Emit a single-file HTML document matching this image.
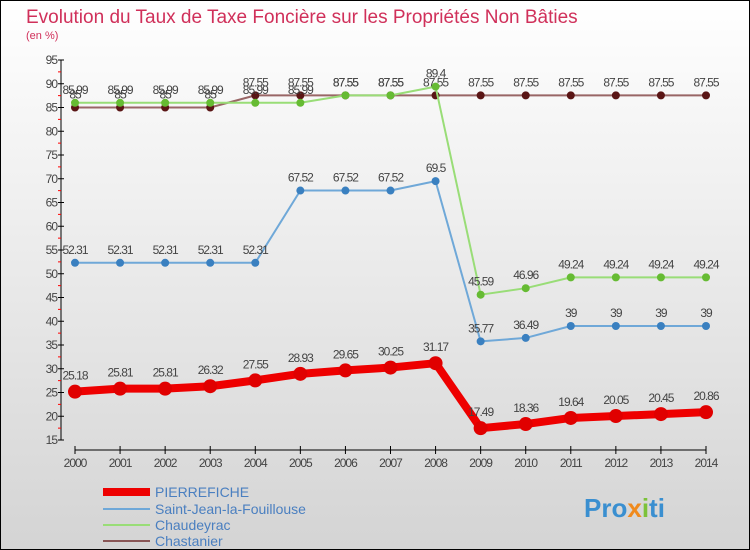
<!DOCTYPE html>
<html><head><meta charset="utf-8"><style>
body{margin:0;}
#c{width:750px;height:550px;position:relative;overflow:hidden;}
svg text{font-family:"Liberation Sans",sans-serif;}
</style></head><body>
<div id="c">
<svg id="s" width="750" height="550" xmlns="http://www.w3.org/2000/svg">
<defs><linearGradient id="bg" x1="0" y1="0" x2="0" y2="1"><stop offset="0" stop-color="#ffffff"/><stop offset="1" stop-color="#d4d4d4"/></linearGradient></defs>
<rect x="0.5" y="0.5" width="749" height="549" fill="url(#bg)" stroke="#000"/>
<text x="26" y="23" font-size="19" fill="#d0305a">Evolution du Taux de Taxe Foncière sur les Propriétés Non Bâties</text>
<text x="26" y="39" font-size="11" fill="#d0305a">(en %)</text>
<g id="axes"></g><g id="series"></g>
<g>
<line x1="103" y1="492" x2="150" y2="492" stroke="#ee0000" stroke-width="8"/>
<text x="155" y="497" font-size="14" fill="#4a7fc0">PIERREFICHE</text>
<line x1="103" y1="509" x2="150" y2="509" stroke="#6fa8d8" stroke-width="2"/>
<text x="155" y="514" font-size="14" fill="#4a7fc0">Saint-Jean-la-Fouillouse</text>
<line x1="103" y1="525" x2="150" y2="525" stroke="#99dd77" stroke-width="2"/>
<text x="155" y="530" font-size="14" fill="#4a7fc0">Chaudeyrac</text>
<line x1="103" y1="541" x2="150" y2="541" stroke="#885555" stroke-width="2"/>
<text x="155" y="546" font-size="14" fill="#4a7fc0">Chastanier</text>
</g>
<text x="584" y="517" font-size="26" font-weight="bold" fill="#3a8fd0">Pro<tspan fill="#f08a1c">x</tspan><tspan fill="#7cc23a">i</tspan>ti</text>
</svg></div>
<script>
const years=[2000,2001,2002,2003,2004,2005,2006,2007,2008,2009,2010,2011,2012,2013,2014];
const yTicks=[15,20,25,30,35,40,45,50,55,60,65,70,75,80,85,90,95];
const pierrefiche=[25.18,25.81,25.81,26.32,27.55,28.93,29.65,30.25,31.17,17.49,18.36,19.64,20.05,20.45,20.86];
const saintJean=[52.31,52.31,52.31,52.31,52.31,67.52,67.52,67.52,69.5,35.77,36.49,39,39,39,39];
const chaudeyrac=[85.99,85.99,85.99,85.99,85.99,85.99,87.55,87.55,89.4,45.59,46.96,49.24,49.24,49.24,49.24];
const chastanier=[85,85,85,85,87.55,87.55,87.55,87.55,87.55,87.55,87.55,87.55,87.55,87.55,87.55];
const NS="http://www.w3.org/2000/svg";
const X=i=>75+i*(706-75)/(years.length-1);
const Y=v=>60+(95-v)*4.75;
function mk(t,a,p){const e=document.createElementNS(NS,t);for(const k in a)e.setAttribute(k,a[k]);p.appendChild(e);return e;}
const ax=document.getElementById('axes');
let yl=mk('line',{x1:61,y1:60,x2:61,y2:440,stroke:'#000'},ax);


yTicks.forEach(v=>{
 const t=mk('line',{x1:58,y1:Y(v),x2:64,y2:Y(v),stroke:'#000'},ax);
 
 
 if(v<95){const m=mk('line',{x1:58,y1:Y(v+2.5),x2:61,y2:Y(v+2.5),stroke:'#f00'},ax);
 
 }
 const l=mk('text',{x:57,y:Y(v)+4,'font-size':12,fill:'#444','text-anchor':'end','letter-spacing':'-1'},ax);l.textContent=v;
 
 
});
let xl=mk('line',{x1:75,y1:450,x2:706,y2:450,stroke:'#000'},ax);


years.forEach((y,i)=>{
 const t=mk('line',{x1:X(i),y1:446,x2:X(i),y2:454,stroke:'#000'},ax);
 
 
 const l=mk('text',{x:X(i),y:467,'font-size':12,fill:'#444','text-anchor':'middle','letter-spacing':'-1'},ax);l.textContent=y;
 
 
});
const sg=document.getElementById('series');
function draw(data,name,line,dot,w,r){
 const g=mk('g',{},sg);
 
 
 const p=mk('polyline',{points:data.map((v,i)=>X(i)+','+Y(v)).join(' '),fill:'none',stroke:line,'stroke-width':w,'stroke-linejoin':'round'},g);
 
 
 data.forEach((v,i)=>{
  const c=mk('circle',{cx:X(i),cy:Y(v),r:r,fill:dot},g);
  
  
  const t=mk('text',{x:X(i),y:Y(v)-(r+5),'font-size':12,fill:'#444','text-anchor':'middle','letter-spacing':'-1'},g);
  t.textContent=String(v);
  
  
 });
}
draw(chastanier,'chastanier','#996666','#5a1515',2,4);
draw(chaudeyrac,'chaudeyrac','#99dd77','#66bb33',2,4);
draw(saintJean,'saint-jean','#6fa8d8','#3a80c0',2,4);
draw(pierrefiche,'pierrefiche','#ee0000','#e00000',8,7);
</script>
</body></html>
